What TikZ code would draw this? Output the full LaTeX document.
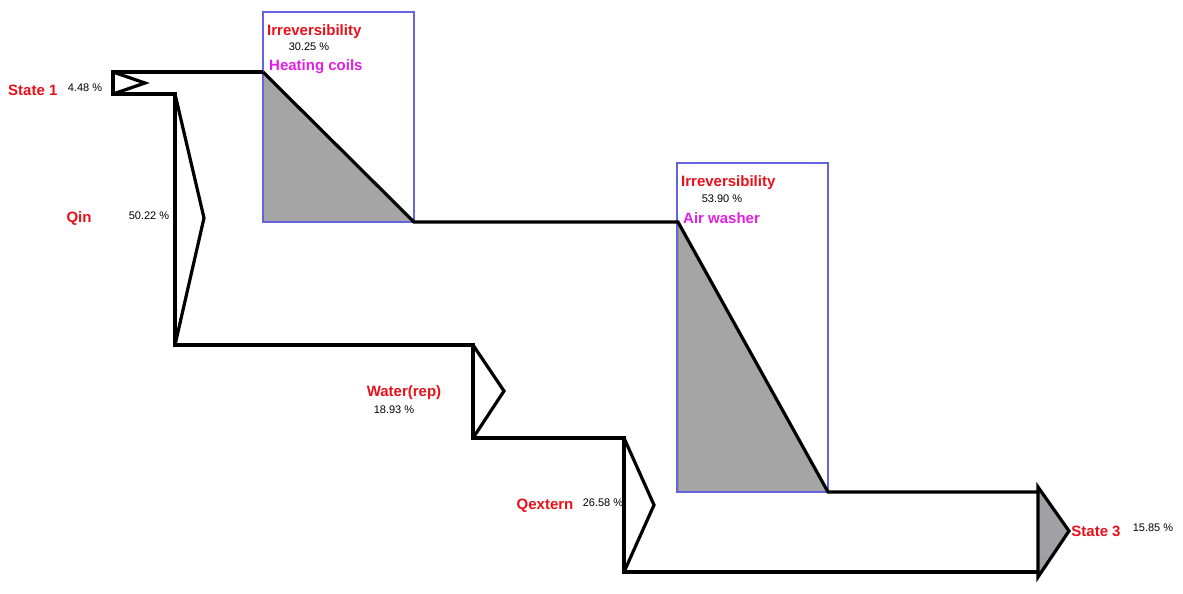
\documentclass[tikz,border=0pt]{standalone}
\usepackage{fontspec}
\setmainfont{Liberation Sans}
\definecolor{lblred}{RGB}{232,16,26}
\definecolor{lblmag}{RGB}{224,32,224}
\definecolor{boxblue}{RGB}{100,100,225}
\definecolor{hatchgray}{RGB}{165,165,165}
\definecolor{outgray}{RGB}{160,160,165}
\tikzset{
  flow/.style={draw=black,line width=3.2pt,line join=miter,line cap=butt},
  devbox/.style={draw=boxblue,line width=1.3pt},
  hatchfill/.style={fill=hatchgray},
  biglbl/.style={font=\fontsize{15}{18}\selectfont\bfseries,text=lblred,inner sep=0pt,yshift=-2pt},
  devlbl/.style={font=\fontsize{15}{18}\selectfont\bfseries,text=lblmag,inner sep=0pt,yshift=-2pt},
  pct/.style={font=\fontsize{11}{13}\selectfont,text=black,inner sep=0pt,yshift=-1pt}
}
\begin{document}
\begin{tikzpicture}[x=1pt,y=-1pt]
\useasboundingbox[fill=white] (0,0) rectangle (1183,594);
% coordinates
\coordinate (s1t) at (113,72);
\coordinate (s1b) at (113,94);
\coordinate (s1tip) at (145,83);
\coordinate (qint) at (175,94);
\coordinate (qintip) at (204,218);
\coordinate (qinb) at (175,345);
\coordinate (hcA) at (263,72);
\coordinate (hcB) at (414,222);
\coordinate (hcC) at (263,222);
\coordinate (awA) at (678,222);
\coordinate (awB) at (828,492);
\coordinate (awC) at (678,492);
\coordinate (wrt) at (473,345);
\coordinate (wrtip) at (504,391);
\coordinate (wrb) at (473,438);
\coordinate (qxt) at (624,438);
\coordinate (qxtip) at (654,505);
\coordinate (qxb) at (624,572);
\coordinate (s3t) at (1038,487);
\coordinate (s3tl) at (1038,492);
\coordinate (s3bl) at (1038,572);
\coordinate (s3tip) at (1069,531);
\coordinate (s3b) at (1038,577);
% device boxes
\draw[hatchfill] (hcA) -- (hcB) -- (hcC) -- cycle;
\draw[hatchfill] (awA) -- (awB) -- (awC) -- cycle;
\draw[devbox] (263,12) rectangle (414,222);
\draw[devbox] (677,163) rectangle (828,492);
% flows
\draw[flow] (hcA) -- (s1t) -- (s1b) -- (qint) -- (qinb) -- (wrt) -- (wrb) -- (qxt) -- (qxb) -- (s3bl);
\draw[flow] (s1t) -- (s1tip) -- (s1b);
\draw[flow] (qint) -- (qintip) -- (qinb);
\draw[flow] (wrt) -- (wrtip) -- (wrb);
\draw[flow] (qxt) -- (qxtip) -- (qxb);
\draw[flow] (hcA) -- (hcB) -- (awA) -- (awB) -- (s3tl);
\draw[flow,fill=outgray] (s3t) -- (s3tip) -- (s3b) -- cycle;
% labels
\node[biglbl,anchor=west] (lst1) at (8,88) {State 1};
\node[pct] (pst1) at (85,87) {4.48 \%};
\node[biglbl] (lqin) at (79,217) {Qin};
\node[pct] (pqin) at (149,215) {50.22 \%};
\node[biglbl,anchor=west] (lirr1) at (267,30) {Irreversibility};
\node[pct] (pirr1) at (309,46) {30.25 \%};
\node[devlbl,anchor=west] (lhc) at (269,65) {Heating coils};
\node[biglbl,anchor=west] (lirr2) at (681,181) {Irreversibility};
\node[pct] (pirr2) at (722,198) {53.90 \%};
\node[devlbl,anchor=west] (law) at (683,216) {Air washer};
\node[biglbl] (lwr) at (404,391) {Water(rep)};
\node[pct] (pwr) at (394,409) {18.93 \%};
\node[biglbl] (lqx) at (545,504) {Qextern};
\node[pct] (pqx) at (603,502) {26.58 \%};
\node[biglbl] (lst3) at (1096,529) {State 3};
\node[pct] (pst3) at (1153,527) {15.85 \%};
\end{tikzpicture}
\end{document}
